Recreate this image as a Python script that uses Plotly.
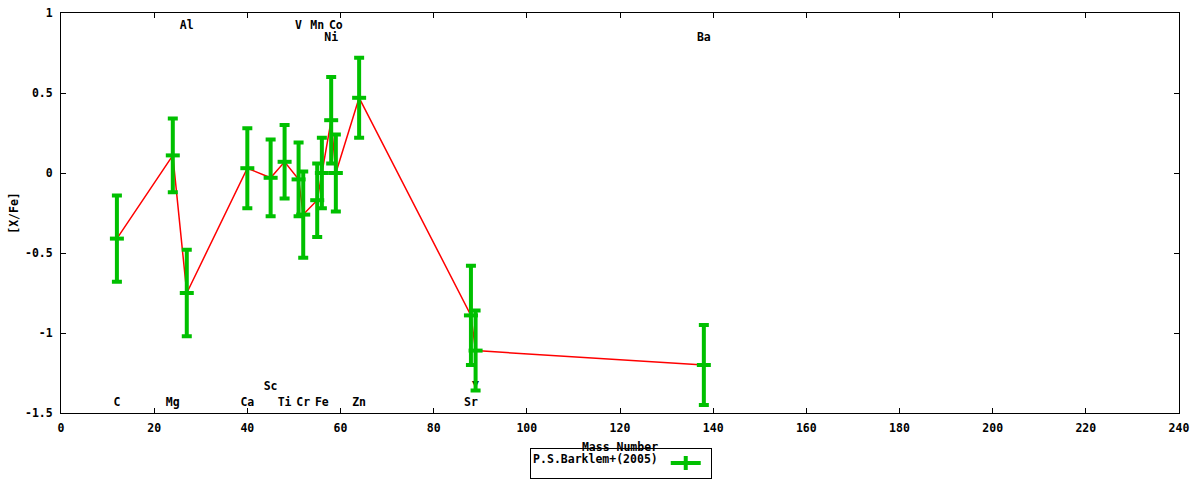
import plotly.graph_objects as go

# abundance data
elements = ["C", "Mg", "Al", "Ca", "Sc", "Ti", "V", "Cr", "Mn", "Fe", "Ni", "Co", "Zn", "Sr", "Y", "Ba"]
mass = [12, 24, 27, 40, 45, 48, 51, 52, 55, 56, 58, 59, 64, 88, 89, 138]
xfe = [-0.41, 0.11, -0.75, 0.03, -0.03, 0.07, -0.04, -0.26, -0.17, 0.0, 0.33, 0.0, 0.47, -0.89, -1.11, -1.20]
err = [0.27, 0.23, 0.27, 0.25, 0.24, 0.23, 0.23, 0.27, 0.23, 0.22, 0.27, 0.24, 0.25, 0.31, 0.25, 0.25]

# element labels, rows as in the reference
label_y = [-1.44, -1.44, 0.92, -1.44, -1.34, -1.44, 0.92, -1.44, 0.92, -1.44, 0.84, 0.92, -1.44, -1.44, -1.34, 0.84]

xticks = [0, 20, 40, 60, 80, 100, 120, 140, 160, 180, 200, 220, 240]
yticks = [-1.5, -1, -0.5, 0, 0.5, 1]
yticktext = ["-1.5", "-1", "-0.5", "0", "0.5", "1"]

GREEN = "#00c000"
font = dict(family="DejaVu Sans Mono", size=11.5, color="black", weight="bold")

fig = go.Figure()

# element names (drawn first so the bars cover them)
fig.add_trace(go.Scatter(
    x=mass, y=label_y, text=elements, mode="text",
    textposition="middle center", textfont=font,
    showlegend=False, hoverinfo="skip"
))

# red connecting line
fig.add_trace(go.Scatter(
    x=mass, y=xfe, mode="lines",
    line=dict(color="red", width=1.5),
    showlegend=False
))

# green error bars
fig.add_trace(go.Scatter(
    x=mass, y=xfe, mode="markers",
    marker=dict(symbol="line-ew", size=10, line=dict(color=GREEN, width=4)),
    error_y=dict(type="data", array=err, color=GREEN, thickness=4, width=5),
    showlegend=False
))

# legend entry
fig.add_trace(go.Scatter(
    x=[None], y=[None], mode="lines+markers", name="",
    line=dict(color=GREEN, width=4),
    marker=dict(symbol="line-ns", size=10, line=dict(color=GREEN, width=4)),
    showlegend=True
))

fig.update_layout(
    width=1200, height=480,
    margin=dict(l=61, r=21, t=13, b=67, autoexpand=False),
    paper_bgcolor="white", plot_bgcolor="white",
    font=font,
    legend=dict(
        title=dict(text="P.S.Barklem+(2005)", side="left", font=font),
        x=0.501, y=-0.125, xanchor="center", yanchor="middle",
        orientation="h", bordercolor="black", borderwidth=1,
        bgcolor="white", font=font, itemwidth=30
    ),
)

fig.update_xaxes(
    range=[0, 240], tickvals=xticks, showgrid=False, zeroline=False,
    showline=True, linecolor="black", linewidth=1, mirror="ticks",
    ticks="inside", ticklen=5, tickcolor="black", ticklabelstandoff=4,
    ticklabeloverflow="allow",
    title=dict(text="Mass Number", font=font, standoff=9)
)
fig.update_yaxes(
    range=[-1.5, 1], tickvals=yticks, ticktext=yticktext,
    showgrid=False, zeroline=False,
    showline=True, linecolor="black", linewidth=1, mirror="ticks",
    ticks="inside", ticklen=5, tickcolor="black", ticklabelstandoff=5,
    ticklabeloverflow="allow",
    title=dict(text="[X/Fe]", font=font, standoff=3)
)

# drop the default 8px body margin so the figure fills the window
fig.write_html("out.html", config={"displayModeBar": False},
               post_script="document.body.style.margin='0';")
